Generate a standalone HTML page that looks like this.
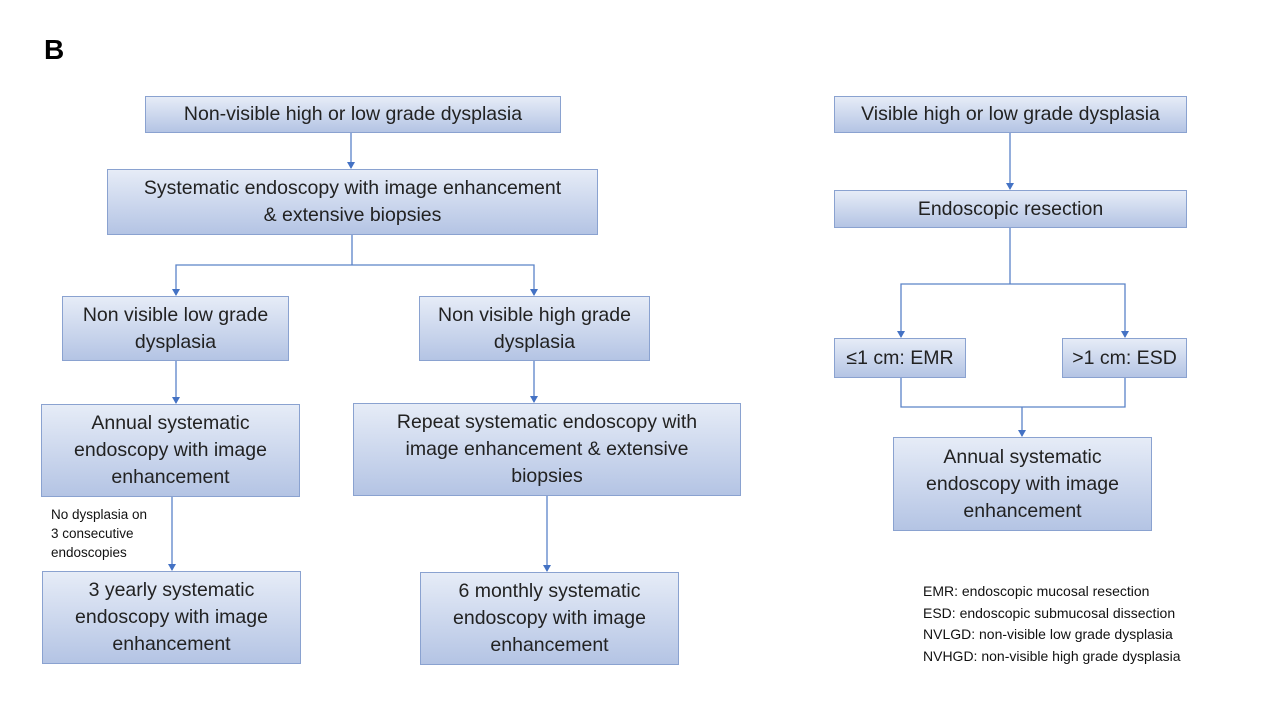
<!DOCTYPE html>
<html><head><meta charset="utf-8"><style>
body{margin:0;width:1273px;height:722px;background:#fff;position:relative;overflow:hidden;font-family:"Liberation Sans",sans-serif}
.b{position:absolute;box-sizing:border-box;border:1.5px solid #8aa2d0;background:linear-gradient(#e6ecf7,#b4c4e4);display:flex;align-items:center;justify-content:center;text-align:center;font-size:19.5px;line-height:27px;color:#222}
.t{position:absolute;font-size:13.5px;color:#111;line-height:19px}
svg{position:absolute;left:0;top:0}
</style></head><body>
<div style="position:absolute;left:44px;top:34px;font-size:28px;font-weight:bold">B</div>
<svg width="1273" height="722"><defs><marker id="a" markerWidth="8" markerHeight="8" refX="4" refY="6" orient="auto" markerUnits="userSpaceOnUse"><path d="M0,0L8,0L4,7z" fill="#4472c4" transform="rotate(0)"/></marker></defs>
<g stroke="#5b83c8" stroke-width="1.3" fill="none">
<path d="M351 133V168"/>
<path d="M352 235V265H176V295M352 265H534V295"/>
<path d="M176 361V403"/><path d="M534 361V402"/>
<path d="M172 497V570"/><path d="M547 496V571"/>
<path d="M1010 133V189"/>
<path d="M1010 228V284H901V337M1010 284H1125V337"/>
<path d="M901 378V407H1125V378M1022 407V436"/>
</g>
<g fill="#4472c4">
<path d="M347 162h8l-4 7z"/><path d="M172 289h8l-4 7z"/><path d="M530 289h8l-4 7z"/>
<path d="M172 397h8l-4 7z"/><path d="M530 396h8l-4 7z"/><path d="M168 564h8l-4 7z"/><path d="M543 565h8l-4 7z"/>
<path d="M1006 183h8l-4 7z"/><path d="M897 331h8l-4 7z"/><path d="M1121 331h8l-4 7z"/><path d="M1018 430h8l-4 7z"/>
</g></svg>
<div class="b" style="left:145px;top:96px;width:416px;height:37px">Non-visible high or low grade dysplasia</div>
<div class="b" style="left:107px;top:169px;width:491px;height:66px">Systematic endoscopy with image enhancement<br>&amp; extensive biopsies</div>
<div class="b" style="left:62px;top:296px;width:227px;height:65px">Non visible low grade<br>dysplasia</div>
<div class="b" style="left:419px;top:296px;width:231px;height:65px">Non visible high grade<br>dysplasia</div>
<div class="b" style="left:41px;top:404px;width:259px;height:93px">Annual systematic<br>endoscopy with image<br>enhancement</div>
<div class="b" style="left:353px;top:403px;width:388px;height:93px">Repeat systematic endoscopy with<br>image enhancement &amp; extensive<br>biopsies</div>
<div class="b" style="left:42px;top:571px;width:259px;height:93px">3 yearly systematic<br>endoscopy with image<br>enhancement</div>
<div class="b" style="left:420px;top:572px;width:259px;height:93px">6 monthly systematic<br>endoscopy with image<br>enhancement</div>
<div class="b" style="left:834px;top:96px;width:353px;height:37px">Visible high or low grade dysplasia</div>
<div class="b" style="left:834px;top:190px;width:353px;height:38px">Endoscopic resection</div>
<div class="b" style="left:834px;top:338px;width:132px;height:40px">≤1 cm: EMR</div>
<div class="b" style="left:1062px;top:338px;width:125px;height:40px">&gt;1 cm: ESD</div>
<div class="b" style="left:893px;top:437px;width:259px;height:94px">Annual systematic<br>endoscopy with image<br>enhancement</div>
<div class="t" style="left:51px;top:505px">No dysplasia on<br>3 consecutive<br>endoscopies</div>
<div class="t" style="left:923px;top:581px;line-height:21.5px;font-size:14px">EMR: endoscopic mucosal resection<br>ESD: endoscopic submucosal dissection<br>NVLGD: non-visible low grade dysplasia<br>NVHGD: non-visible high grade dysplasia</div>
</body></html>
